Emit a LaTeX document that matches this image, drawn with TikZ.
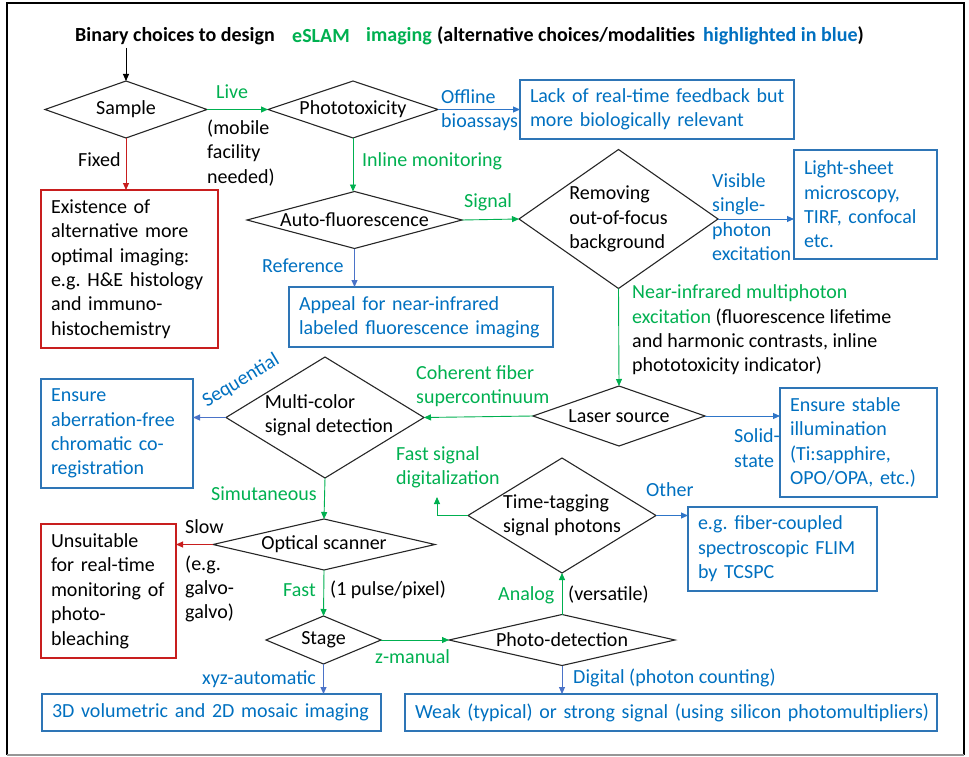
\documentclass[tikz,border=0pt]{standalone}
\usepackage{fontspec}
\setmainfont{Carlito}
\usetikzlibrary{shapes.geometric,arrows.meta}
\definecolor{gr}{RGB}{0,176,80}
\definecolor{bl}{RGB}{0,112,192}
\definecolor{blbox}{RGB}{46,117,182}
\definecolor{blarr}{RGB}{46,117,200}
\definecolor{blarrb}{RGB}{75,115,200}
\definecolor{rd}{RGB}{200,30,30}
\definecolor{frgray}{RGB}{150,150,150}
\newcommand\fsz{\fontsize{20}{24.4}\selectfont\frenchspacing}
\newcommand\ml[1]{\mbox{#1}}
\begin{document}
\begin{tikzpicture}[x=1pt,y=-1pt,
  every node/.style={font=\fsz},
  dia/.style={draw=black!85, line width=1.1pt, shape=diamond, inner sep=0pt, outer sep=0pt},
  dl/.style={align=left, inner sep=0pt},
  boxbase/.style={line width=1.4pt, inner xsep=10pt, inner ysep=0pt, align=left, outer sep=0pt},
  rbox/.style={boxbase, draw=rd},
  bbox/.style={boxbase, draw=blbox, text=bl},
  lab/.style={inner sep=0pt, anchor=west, align=left},
  tip/.style={-{Triangle[length=7pt,width=6pt]}},
  karr/.style={tip, draw=black, line width=0.9pt},
  garr/.style={tip, draw=gr, line width=0.9pt},
  barr/.style={tip, draw=blarr, line width=0.9pt},
  barrb/.style={tip, draw=blarrb, line width=0.9pt},
  rarr/.style={tip, draw=rd, line width=0.9pt}
]
\useasboundingbox (0,0) rectangle (969,757);
% frame
\draw[black, line width=1.2pt] (7,755) -- (7,3) -- (964,3) -- (964,755);
\draw[frgray, line width=1.2pt] (7,755) -- (964,755);

% title
\node[lab, font=\fsz\bfseries] (t1) at (75,36) {Binary choices to design};
\node[lab, font=\fsz\bfseries, text=gr] (t2) at (292,36) {eSLAM};
\node[lab, font=\fsz\bfseries, text=gr] (t3) at (366,36) {imaging};
\node[lab, font=\fsz\bfseries] (t4) at (437,36) {(alternative choices/modalities};
\node[lab, font=\fsz\bfseries, text=bl] (t5) at (703,36) {highlighted in blue\textcolor{black}{)}};
\coordinate (t0) at (126,48);

% diamonds
\node[dia, minimum width=162pt, minimum height=57pt, label={[dl]center:Sample}] (sample) at (126,109.5) {};
\node[dia, minimum width=170pt, minimum height=57pt, label={[dl]center:Phototoxicity}] (photox) at (353,109.5) {};
\node[dia, minimum width=215pt, minimum height=57pt, label={[dl]center:Auto-fluorescence}] (auto) at (354.5,220) {};
\node[dia, minimum width=199pt, minimum height=139pt, label={[dl]center:Removing\\out-of-focus\\background}] (remov) at (618.5,219) {};
\node[dia, minimum width=172pt, minimum height=60pt, label={[dl]center:Laser source}] (laser) at (619,416) {};
\node[dia, minimum width=198pt, minimum height=121pt, label={[dl,xshift=4pt,yshift=2pt]center:Multi-color\\signal detection}] (multi) at (325,417.5) {};
\node[dia, minimum width=222pt, minimum height=51pt, label={[dl]center:Optical scanner}] (optical) at (324,544.5) {};
\node[dia, minimum width=115pt, minimum height=48pt, label={[dl]center:Stage}] (stage) at (323.5,640) {};
\node[dia, minimum width=226pt, minimum height=51pt, label={[dl]center:Photo-detection}] (photod) at (562,640) {};
\node[dia, minimum width=188pt, minimum height=115pt, label={[dl]center:Time-tagging\\signal photons}] (ttag) at (562,515.5) {};

% boxes
\node[rbox, minimum width=177pt, minimum height=158pt, text width=157pt] (rbox1) at (129.5,269) {\ml{Existence of}\\\ml{alternative more}\\\ml{optimal imaging:}\\\ml{e.g. H\&E histology}\\\ml{and immuno-}\\\ml{histochemistry}};
\node[bbox, minimum width=274pt, minimum height=59pt, text width=254pt] (bbox1) at (657,109.5) {\ml{Lack of real-time feedback but}\\\ml{more biologically relevant}};
\node[bbox, minimum width=143pt, minimum height=109pt, text width=123pt] (bbox2) at (865.5,204.5) {\ml{Light-sheet}\\\ml{microscopy,}\\\ml{TIRF, confocal}\\\ml{etc.}};
\node[bbox, minimum width=264pt, minimum height=60pt, text width=244pt] (bbox3) at (421,317) {\ml{Appeal for near-infrared}\\\ml{labeled fluorescence imaging}};
\node[bbox, minimum width=152pt, minimum height=109pt, text width=132pt] (bbox4) at (117,433.5) {\ml{Ensure}\\\ml{aberration-free}\\\ml{chromatic co-}\\\ml{registration}};
\node[rbox, minimum width=135pt, minimum height=134pt, text width=115pt] (rbox2) at (108.5,591) {\ml{Unsuitable}\\\ml{for real-time}\\\ml{monitoring of}\\\ml{photo-}\\\ml{bleaching}};
\node[bbox, minimum width=339pt, minimum height=37pt, text width=319pt] (bbox5) at (211.5,712.5) {\ml{3D volumetric and 2D mosaic imaging}};
\node[bbox, minimum width=532pt, minimum height=37pt, text width=512pt] (bbox6) at (671,712.5) {\ml{Weak (typical) or strong signal (using silicon photomultipliers)}};
\node[bbox, minimum width=189pt, minimum height=84pt, text width=169pt] (bbox7) at (782.5,549) {\ml{e.g. fiber-coupled}\\\ml{spectroscopic FLIM}\\\ml{by TCSPC}};
\node[bbox, minimum width=157pt, minimum height=109pt, text width=137pt] (bbox8) at (858.5,442.5) {\ml{Ensure stable}\\\ml{illumination}\\\ml{(Ti:sapphire,}\\\ml{OPO/OPA, etc.)}};

% labels
\node[lab, text=gr] (live) at (216,92) {Live};
\node[lab] (mobile) at (207,153) {(mobile\\facility\\needed)};
\node[lab] (fixed) at (78,160) {Fixed};
\node[lab, text=bl] (offl) at (441,110) {Offline\\bioassays};
\node[lab, text=gr] (inl) at (362,161) {Inline monitoring};
\node[lab, text=gr] (sig) at (464,202) {Signal};
\node[lab, text=bl] (ref) at (262,266) {Reference};
\node[lab, text=bl] (vis) at (712,217) {Visible\\single-\\photon\\excitation};
\node[lab] (nir) at (632,330) {\textcolor{gr}{Near-infrared multiphoton}\\\textcolor{gr}{excitation} (fluorescence lifetime\\and harmonic contrasts, inline\\phototoxicity indicator)};
\node[lab, text=gr] (coh) at (416,386) {Coherent fiber\\supercontinuum};
\node[inner sep=0pt, text=bl, rotate=31] (seq) at (241,381) {Sequential};
\node[lab, text=gr] (sim) at (211,494) {Simutaneous};
\node[lab] (slow) at (185,527) {Slow};
\node[lab] (galvo) at (185,589) {(e.g.\\galvo-\\galvo)};
\node[lab, text=gr] (fast) at (283,590) {Fast};
\node[lab] (pulse) at (330,590) {(1 pulse/pixel)};
\node[lab, text=gr] (zman) at (375,657) {z-manual};
\node[lab, text=bl] (xyz) at (202,679) {xyz-automatic};
\node[lab, text=bl] (dig) at (573,678) {Digital (photon counting)};
\node[lab, text=gr] (ana) at (498,595) {Analog};
\node[lab] (vers) at (568,595) {(versatile)};
\node[lab, text=gr] (fsd) at (396,467) {Fast signal\\digitalization};
\node[lab, text=bl] (oth) at (646,490) {Other};
\node[lab, text=bl] (sol) at (734,448) {Solid-\\state};
\coordinate (fs) at (437,497);

% connectors
\draw[karr] (t0) -- (sample.north);
\draw[garr] (sample.east) -- (photox.west);
\draw[rarr] (sample.south) -- (sample.south |- rbox1.north);
\draw[barr] (photox.east) -- (bbox1.west);
\draw[garr] (photox.south) -- (photox.south |- auto.north);
\draw[garr] (auto.east) -- (remov.west);
\draw[barr] (remov.east) -- (remov.east -| bbox2.west);
\draw[barrb] (auto.south) -- (auto.south |- bbox3.north);
\draw[garr] (remov.south) -- (laser.north);
\draw[garr] (laser.west) -- (multi.east);
\draw[barr] (laser.east) -- (laser.east -| bbox8.west);
\draw[barrb] (multi.west) -- (multi.west -| bbox4.east);
\draw[garr] (multi.south) -- (optical.north);
\draw[rarr] (optical.west) -- (optical.west -| rbox2.east);
\draw[garr] (optical.south) -- (stage.north);
\draw[garr] (stage.east) -- (photod.west);
\draw[barrb] (stage.south) -- (stage.south |- bbox5.north);
\draw[barrb] (photod.south) -- (photod.south |- bbox6.north);
\draw[garr] (photod.north) -- (ttag.south);
\draw[garr] (ttag.west) -| (fs);
\draw[barr] (ttag.east) -- (ttag.east -| bbox7.west);
\end{tikzpicture}
\end{document}
